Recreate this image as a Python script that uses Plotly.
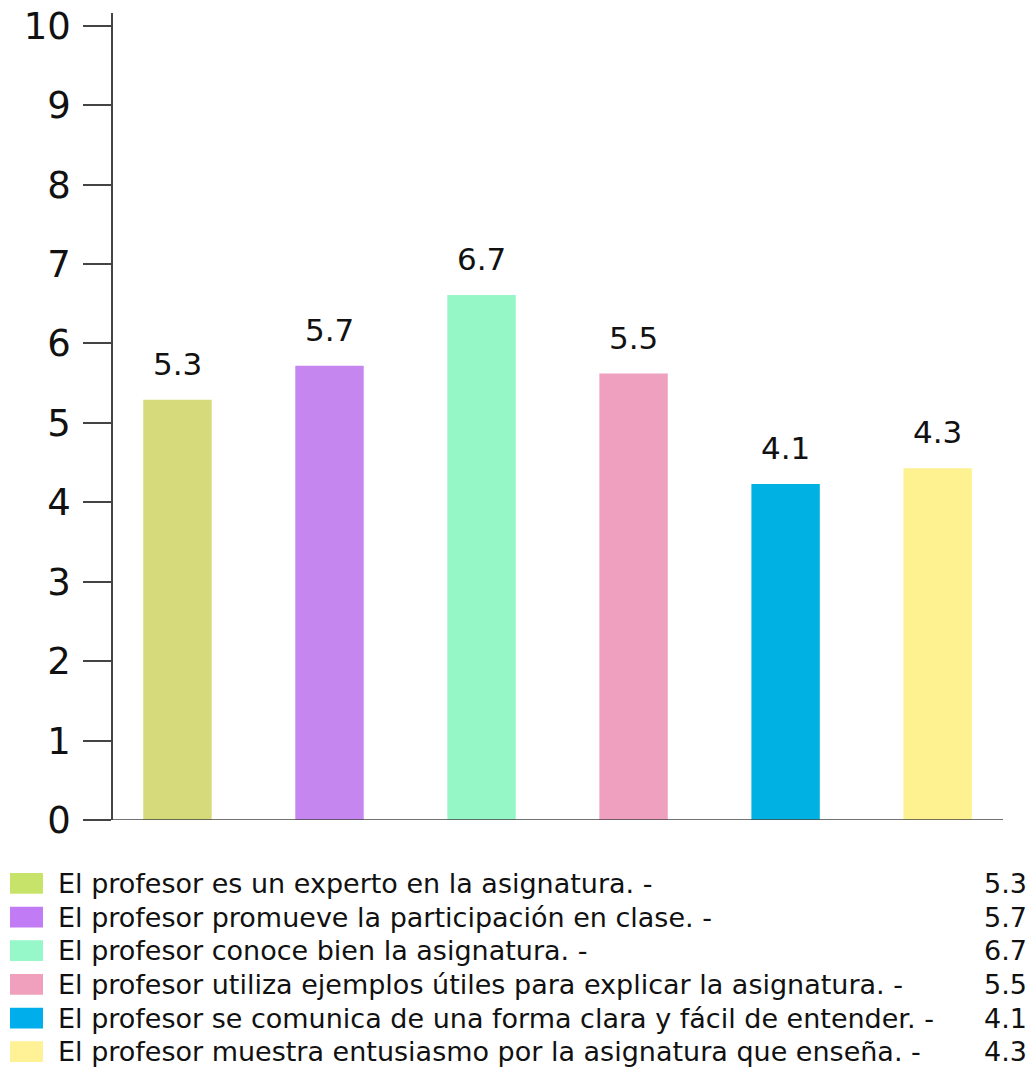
import plotly.graph_objects as go

# data
items = [
    "El profesor es un experto en la asignatura. -",
    "El profesor promueve la participación en clase. -",
    "El profesor conoce bien la asignatura. -",
    "El profesor utiliza ejemplos útiles para explicar la asignatura. -",
    "El profesor se comunica de una forma clara y fácil de entender. -",
    "El profesor muestra entusiasmo por la asignatura que enseña. -",
]
heights = [5.29, 5.72, 6.61, 5.62, 4.23, 4.43]
labels = ["5.3", "5.7", "6.7", "5.5", "4.1", "4.3"]
bar_colors = ["#D6DA7A", "#C686F0", "#96F7C6", "#F0A0BF", "#00B2E3", "#FDF28F"]
swatch_colors = ["#C8E36A", "#C17CF5", "#96F7C8", "#F0A0BC", "#00AEEB", "#FFF195"]
y_ticks = list(range(0, 11))

W, H = 1033, 1073
left, right, top, bottom = 113, 30, 5, 253
plot_w = W - left - right
plot_h = H - top - bottom


def px_x(px):
    return (px - left) / plot_w


def px_y(py):
    return (H - bottom - py) / plot_h


fig = go.Figure()
fig.add_trace(go.Bar(
    x=list(range(len(heights))), y=heights,
    marker=dict(color=bar_colors, line=dict(width=0)),
    width=0.45, hoverinfo="skip",
))

shapes = []
annotations = []

# value labels above the bars
for i, (h, lab) in enumerate(zip(heights, labels)):
    annotations.append(dict(x=i, y=h, xref="x", yref="y", text=lab, showarrow=False,
                            xanchor="center", yanchor="bottom", yshift=16,
                            font=dict(family="DejaVu Sans", size=31, color="#111111")))

# legend table under the chart
row0, row_step = 884, 34
for i, (txt, lab, col) in enumerate(zip(items, labels, swatch_colors)):
    cy = row0 + i * row_step
    shapes.append(dict(type="rect", xref="paper", yref="paper",
                       x0=px_x(10), x1=px_x(43), y0=px_y(cy + 10.5), y1=px_y(cy - 10.5),
                       fillcolor=col, line=dict(width=0)))
    annotations.append(dict(xref="paper", yref="paper", x=px_x(56), y=px_y(cy),
                            xanchor="left", yanchor="middle", text=txt, showarrow=False,
                            font=dict(family="DejaVu Sans", size=27, color="#111111")))
    annotations.append(dict(xref="paper", yref="paper", x=px_x(1029), y=px_y(cy),
                            xanchor="right", yanchor="middle", text=lab, showarrow=False,
                            font=dict(family="DejaVu Sans", size=27, color="#111111")))

fig.update_layout(
    width=W, height=H,
    margin=dict(l=left, r=right, t=top, b=bottom, pad=0),
    plot_bgcolor="white", paper_bgcolor="white",
    showlegend=False,
    shapes=shapes, annotations=annotations,
    xaxis=dict(range=[-0.424, 5.43], showticklabels=False, ticks="",
               showgrid=False, zeroline=False, showline=False),
    yaxis=dict(range=[0, 10.16], tickvals=y_ticks, ticks="outside", ticklen=28,
               tickcolor="#444444", tickwidth=1.5, showline=True, linecolor="#444444",
               linewidth=1.5, showgrid=False, zeroline=False,
               ticklabelstandoff=5, ticklabeloverflow="allow",
               tickfont=dict(family="DejaVu Sans", size=37, color="#111111")),
)
# x baseline, extended left to the 0 tick
fig.add_shape(type="line", xref="paper", yref="y", x0=px_x(85), x1=px_x(1003),
              y0=0, y1=0, line=dict(color="#444444", width=1.5))

fig.write_html("out.html", config={"displayModeBar": False},
               post_script="document.body.style.margin='0';document.body.style.overflow='hidden';")
